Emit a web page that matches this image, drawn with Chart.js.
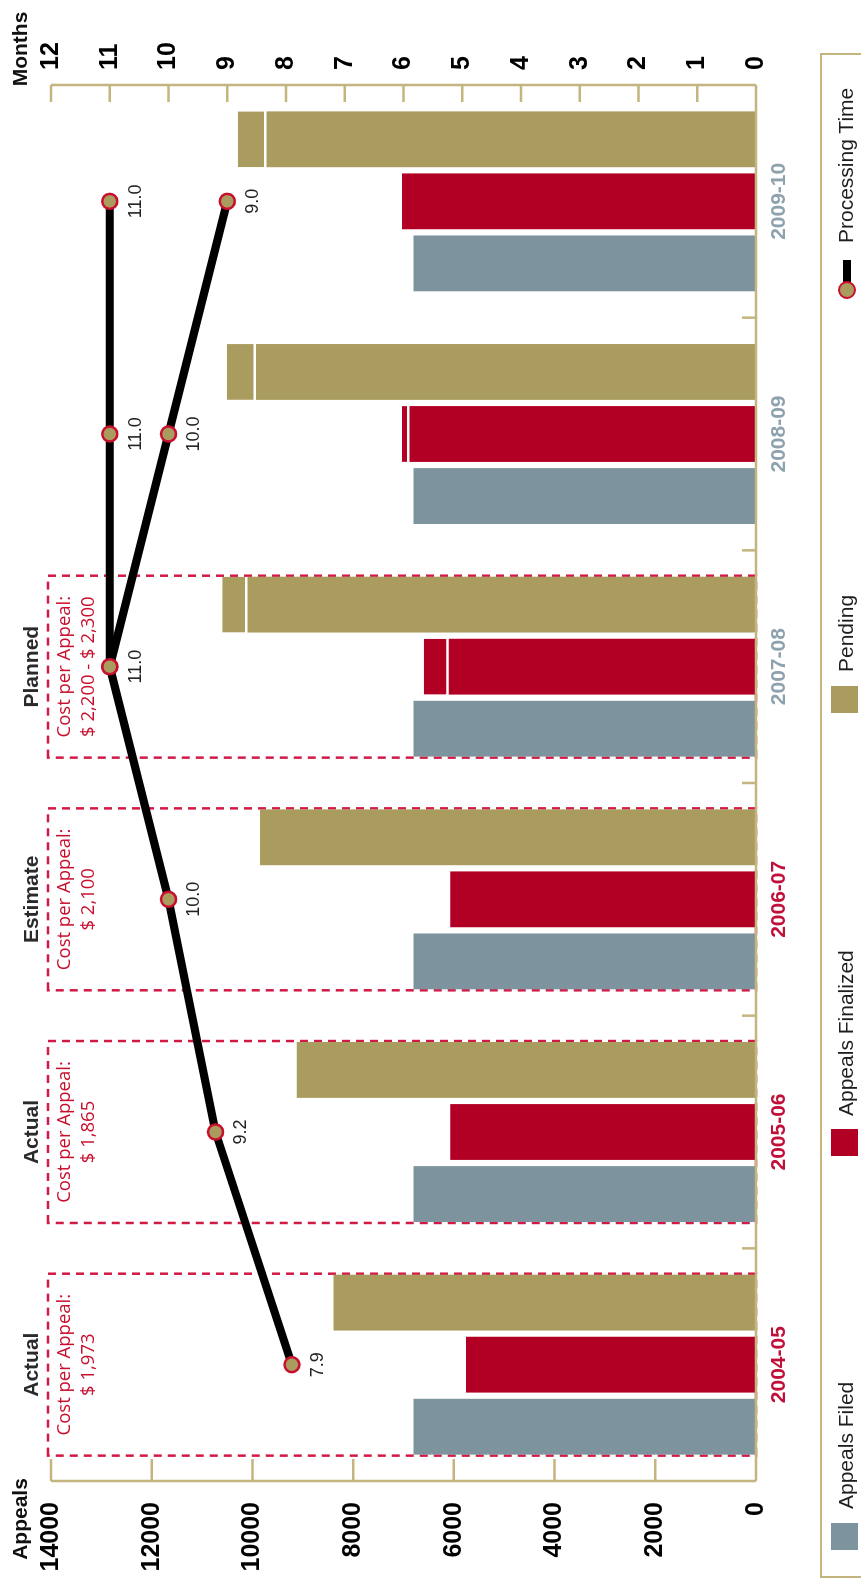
<!DOCTYPE html>
<html>
<head>
<meta charset="utf-8">
<title>Appeals and processing time</title>
<script src="https://cdn.jsdelivr.net/npm/chart.js@4.4.1/dist/chart.umd.min.js"></script>
<style>
  html, body { margin: 0; padding: 0; background: #fff; overflow: hidden; }
  /* the chart is laid out landscape and turned a quarter turn to stand upright */
  #page {
    position: absolute; left: 0; top: 0;
    width: 1581px; height: 861px; overflow: hidden; background: #fff;
    transform-origin: 0 0; transform: translate(0, 1581px) rotate(-90deg);
    font-family: "Liberation Sans", Arial, sans-serif;
  }
  #chart { position: absolute; left: 0; top: 0; }
  #legend-box {
    position: absolute; left: 3px; top: 820px; width: 1525px; height: 80px;
    border: 2px solid #c4b57f; box-sizing: border-box;
  }
  .swatch { position: absolute; top: 831px; width: 27px; height: 27px; }
  .ltext { position: absolute; top: 831px; line-height: 30px; font-size: 21px; color: #1e1e1e; white-space: nowrap; }
  .pline { position: absolute; left: 1291px; top: 843px; width: 30px; height: 8px; background: #000; }
  .pdot {
    position: absolute; left: 1282px; top: 838px; width: 18px; height: 18px; box-sizing: border-box;
    border-radius: 50%; background: #aa9c5e; border: 2.5px solid #c8102e;
  }
</style>
</head>
<body>
<div id="page">
  <canvas id="chart" width="1581" height="861"></canvas>
  <div id="legend-box"></div>
  <div class="swatch" style="left:31px;background:#7d939e"></div>
  <div class="ltext" style="left:72px">Appeals Filed</div>
  <div class="swatch" style="left:425px;background:#b20024"></div>
  <div class="ltext" style="left:465px">Appeals Finalized</div>
  <div class="swatch" style="left:868px;background:#aa9c5e"></div>
  <div class="ltext" style="left:909px">Pending</div>
  <div class="pline"></div>
  <div class="pdot"></div>
  <div class="ltext" style="left:1338px">Processing Time</div>
</div>
<script>
const categories = ['2004-05', '2005-06', '2006-07', '2007-08', '2008-09', '2009-10'];

const appealsFiled = [6800, 6800, 6800, 6800, 6800, 6800];
const appealsFinalized = [5760, 6070, 6070, 6100, 6880, 7030];
const finalizedRange = [null, null, null, 500, 150, null];   // planned upper band
const pending = [8390, 9120, 9850, 10100, 9930, 9720];
const pendingRange = [null, null, null, 500, 580, 570];

const processingTime = [7.9, 9.2, 10.0, 11.0, 11.0, 11.0];
const processingTimeLow = [null, null, null, 11.0, 10.0, 9.0];

const boxTitles = ['Actual', 'Actual', 'Estimate', 'Planned'];
const boxCosts = ['$ 1,973', '$ 1,865', '$ 2,100', '$ 2,200 - $ 2,300'];

const GOLD = '#aa9c5e';
const AXIS = '#c4b57f';
const RED = '#b20024';
const GREY = '#7d939e';
const DASH_RED = '#d11a45';

Chart.defaults.font.family = '"Liberation Sans", Arial, sans-serif';

const splitBorder = { top: 0, left: 0, right: 0, bottom: 2.5 };

// dashed year boxes, their captions, the gold axes and point labels
const decorations = {
  id: 'decorations',
  beforeDatasetsDraw(chart) {
    const { ctx, scales: { y } } = chart;
    const filedMeta = chart.getDatasetMeta(0);
    const pendingMeta = chart.getDatasetMeta(3);
    const top = y.getPixelForValue(14000) - 3;
    const bottom = y.getPixelForValue(0);
    ctx.save();
    boxTitles.forEach((title, i) => {
      const a = filedMeta.data[i], b = pendingMeta.data[i];
      const left = a.x - a.width / 2 - 1;
      const right = b.x + b.width / 2 + 1;
      const cx = (left + right) / 2;
      ctx.strokeStyle = DASH_RED;
      ctx.lineWidth = 2.5;
      ctx.setLineDash([8, 6]);
      ctx.strokeRect(left, top, right - left, bottom - top);

      ctx.setLineDash([]);
      ctx.textAlign = 'center';
      ctx.textBaseline = 'middle';
      ctx.fillStyle = '#2a2a2a';
      ctx.font = 'bold 21px "Liberation Sans", Arial, sans-serif';
      ctx.fillText(title, cx, top - 16);
      ctx.fillStyle = '#c8102e';
      ctx.font = '18.5px "Open Sans", sans-serif';
      ctx.fillText('Cost per Appeal:', cx, top + 17);
      ctx.fillText(boxCosts[i], cx, top + 41);
    });
    ctx.restore();
  },
  afterDatasetsDraw(chart) {
    const { ctx, chartArea, scales: { x, y, y1 } } = chart;
    const bottom = chartArea.bottom;
    ctx.save();
    ctx.strokeStyle = AXIS;
    ctx.lineWidth = 2.5;
    ctx.beginPath();
    // value axes
    ctx.moveTo(chartArea.left, y.getPixelForValue(14000));
    ctx.lineTo(chartArea.left, bottom);
    ctx.moveTo(chartArea.right, y1.getPixelForValue(12));
    ctx.lineTo(chartArea.right, bottom);
    y.ticks.forEach(t => {
      const py = y.getPixelForValue(t.value);
      ctx.moveTo(chartArea.left, py);
      ctx.lineTo(chartArea.left + 22, py);
    });
    y1.ticks.forEach(t => {
      const py = y1.getPixelForValue(t.value);
      ctx.moveTo(chartArea.right - 17, py);
      ctx.lineTo(chartArea.right, py);
    });
    // category axis and year separators
    ctx.moveTo(chartArea.left, bottom);
    ctx.lineTo(chartArea.right, bottom);
    for (let i = 0; i < categories.length - 1; i++) {
      const px = (x.getPixelForValue(i) + x.getPixelForValue(i + 1)) / 2;
      ctx.moveTo(px, bottom - 14);
      ctx.lineTo(px, bottom);
    }
    ctx.stroke();

    // axis titles
    ctx.fillStyle = '#111';
    ctx.font = 'bold 21px "Liberation Sans", Arial, sans-serif';
    ctx.textAlign = 'center';
    ctx.textBaseline = 'middle';
    ctx.fillText('Appeals', 62, 21);
    ctx.fillText('Months', 1532, 21);

    // processing time values under each point
    ctx.font = '18px "Liberation Sans", Arial, sans-serif';
    ctx.fillStyle = '#222';
    [5, 6].forEach(di => {
      const values = chart.data.datasets[di].data;
      chart.getDatasetMeta(di).data.forEach((pt, i) => {
        const v = values[i];
        if (v == null) return;
        if (di === 6 && processingTime[i] === v) return;
        ctx.fillText(v.toFixed(1), pt.x, pt.y + 26);
      });
    });
    ctx.restore();
  }
};

const lineStyle = {
  type: 'line',
  yAxisID: 'y1',
  borderColor: '#000',
  borderWidth: 8,
  borderJoinStyle: 'round',
  borderCapStyle: 'round',
  pointRadius: 7.5,
  pointBackgroundColor: GOLD,
  pointBorderColor: '#c8102e',
  pointBorderWidth: 2.5,
  tension: 0,
  order: 0
};

new Chart(document.getElementById('chart'), {
  type: 'bar',
  data: {
    labels: categories,
    datasets: [
      { label: 'Appeals Filed', data: appealsFiled, backgroundColor: GREY, stack: 'filed', order: 1 },
      { label: 'Appeals Finalized', data: appealsFinalized, backgroundColor: RED, stack: 'finalized', order: 1 },
      { label: 'Appeals Finalized range', data: finalizedRange, backgroundColor: RED, stack: 'finalized', order: 1,
        borderColor: '#fff', borderWidth: splitBorder, borderSkipped: false },
      { label: 'Pending', data: pending, backgroundColor: GOLD, stack: 'pending', order: 1 },
      { label: 'Pending range', data: pendingRange, backgroundColor: GOLD, stack: 'pending', order: 1,
        borderColor: '#fff', borderWidth: splitBorder, borderSkipped: false },
      Object.assign({ label: 'Processing Time', data: processingTime }, lineStyle),
      Object.assign({ label: 'Processing Time (low)', data: processingTimeLow }, lineStyle)
    ]
  },
  options: {
    responsive: false,
    animation: false,
    devicePixelRatio: 1,
    layout: { padding: { top: 51, left: 0, right: 0, bottom: 0 } },
    plugins: { legend: { display: false }, tooltip: { enabled: false } },
    scales: {
      x: {
        stacked: true,
        grid: { display: false, drawTicks: false },
        border: { display: false },
        ticks: {
          padding: 11,
          font: { size: 21, weight: 'bold' },
          color: ctx => ctx.index < 3 ? '#c0103a' : '#8ea2ae'
        },
        afterFit(scale) { scale.height = 105; }
      },
      y: {
        stacked: true,
        position: 'left',
        min: 0, max: 14000,
        grid: { display: false, drawTicks: false },
        border: { display: false },
        ticks: {
          stepSize: 2000, padding: 21, color: '#000',
          font: { size: 25, weight: 'bold' },
          callback: v => String(v)
        },
        afterFit(scale) { scale.width = 100; }
      },
      y1: {
        position: 'right',
        min: 0, max: 12,
        grid: { display: false, drawTicks: false },
        border: { display: false },
        ticks: { stepSize: 1, padding: 15, color: '#000', font: { size: 25, weight: 'bold' } },
        afterFit(scale) { scale.width = 85; }
      }
    }
  },
  plugins: [decorations]
});
</script>
</body>
</html>
